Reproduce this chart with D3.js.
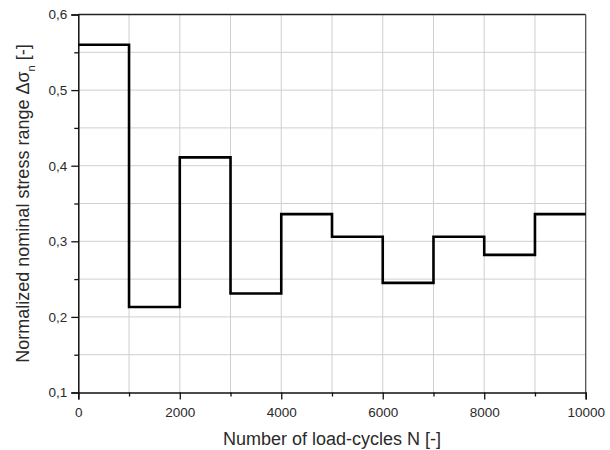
<!DOCTYPE html>
<html>
<head>
<meta charset="utf-8">
<script src="https://cdn.jsdelivr.net/npm/d3@7"></script>
<style>
  html, body { margin: 0; padding: 0; background: #fff; }
  svg { display: block; font-family: "Liberation Sans", Arial, sans-serif; }
</style>
</head>
<body>
<svg id="chart" width="610" height="450"></svg>
<script>
// Block boundaries (load cycles) and the normalized stress range per block
const cycleEdges = [0, 1000, 2000, 3000, 4000, 5000, 6000, 7000, 8000, 9000, 10000];
const stressRange = [0.56, 0.213, 0.411, 0.231, 0.336, 0.306, 0.245, 0.306, 0.282, 0.336];

const xMajorTicks = [0, 2000, 4000, 6000, 8000, 10000];
const xMinorTicks = [1000, 3000, 5000, 7000, 9000];
const yMajorTicks = [0.1, 0.2, 0.3, 0.4, 0.5, 0.6];
const yMinorTicks = [0.15, 0.25, 0.35, 0.45, 0.55];

const xTitle = "Number of load-cycles N [-]";

const svg = d3.select("#chart");
const margin = { left: 78.3, right: 24.3, top: 14.5, bottom: 57.5 };
const W = 610, H = 450;

const x = d3.scaleLinear().domain([0, 10000]).range([margin.left, W - margin.right]);
const y = d3.scaleLinear().domain([0.1, 0.6]).range([H - margin.bottom, margin.top]);

const fmt = d3.format(".1f");
const comma = v => fmt(v).replace(".", ",");

// grid
const grid = svg.append("g").attr("stroke", "#cfcfcf").attr("stroke-width", 1);
grid.selectAll("line.gx").data(cycleEdges.slice(1, -1)).join("line")
  .attr("x1", d => x(d)).attr("x2", d => x(d))
  .attr("y1", y(0.1)).attr("y2", y(0.6));
grid.selectAll("line.gy").data(yMinorTicks.concat(yMajorTicks.slice(1, -1))).join("line")
  .attr("y1", d => y(d)).attr("y2", d => y(d))
  .attr("x1", x(0)).attr("x2", x(10000));

// top and right frame
svg.append("line").attr("x1", x(0)).attr("x2", x(10000)).attr("y1", y(0.6)).attr("y2", y(0.6))
  .attr("stroke", "#222").attr("stroke-width", 1.4);
svg.append("line").attr("x1", x(10000)).attr("x2", x(10000)).attr("y1", y(0.6)).attr("y2", y(0.1))
  .attr("stroke", "#444").attr("stroke-width", 1.2);

// axes
svg.append("g").attr("transform", `translate(0,${y(0.1)})`)
  .call(d3.axisBottom(x).tickValues(xMajorTicks).tickFormat(d3.format("d")).tickSize(7).tickPadding(8));
svg.append("g").attr("transform", `translate(0,${y(0.1)})`)
  .call(d3.axisBottom(x).tickValues(xMinorTicks).tickFormat("").tickSize(4))
  .call(g => g.select(".domain").remove());

svg.append("g").attr("transform", `translate(${x(0)},0)`)
  .call(d3.axisLeft(y).tickValues(yMajorTicks).tickFormat(comma).tickSize(7).tickPadding(4));
svg.append("g").attr("transform", `translate(${x(0)},0)`)
  .call(d3.axisLeft(y).tickValues(yMinorTicks).tickFormat("").tickSize(4))
  .call(g => g.select(".domain").remove());

svg.selectAll(".domain").attr("stroke", "#111").attr("stroke-width", 1.5);
svg.selectAll(".tick line").attr("stroke", "#111").attr("stroke-width", 1.3);
svg.selectAll(".tick text").attr("font-size", 13.5).attr("fill", "#2a2a2a")
  .attr("font-family", "'Liberation Sans', Arial, sans-serif");

// step line
const pts = cycleEdges.map((c, i) => [c, stressRange[Math.min(i, stressRange.length - 1)]]);
const line = d3.line().x(d => x(d[0])).y(d => y(d[1])).curve(d3.curveStepAfter);
svg.append("path").datum(pts).attr("d", line)
  .attr("fill", "none").attr("stroke", "#000").attr("stroke-width", 2.6)
  .attr("stroke-linejoin", "miter");

// axis titles
svg.append("text").attr("x", (x(0) + x(10000)) / 2).attr("y", 445)
  .attr("text-anchor", "middle").attr("font-size", 18).attr("fill", "#2a2a2a")
  .text(xTitle);

const yt = svg.append("text")
  .attr("transform", `translate(28.5,${(y(0.1) + y(0.6)) / 2}) rotate(-90)`)
  .attr("text-anchor", "middle").attr("font-size", 18).attr("fill", "#2a2a2a");
yt.append("tspan").text("Normalized nominal stress range Δσ");
yt.append("tspan").attr("font-size", 11).attr("dy", 6).text("n");
yt.append("tspan").attr("dy", -6).text(" [-]");
</script>
</body>
</html>
